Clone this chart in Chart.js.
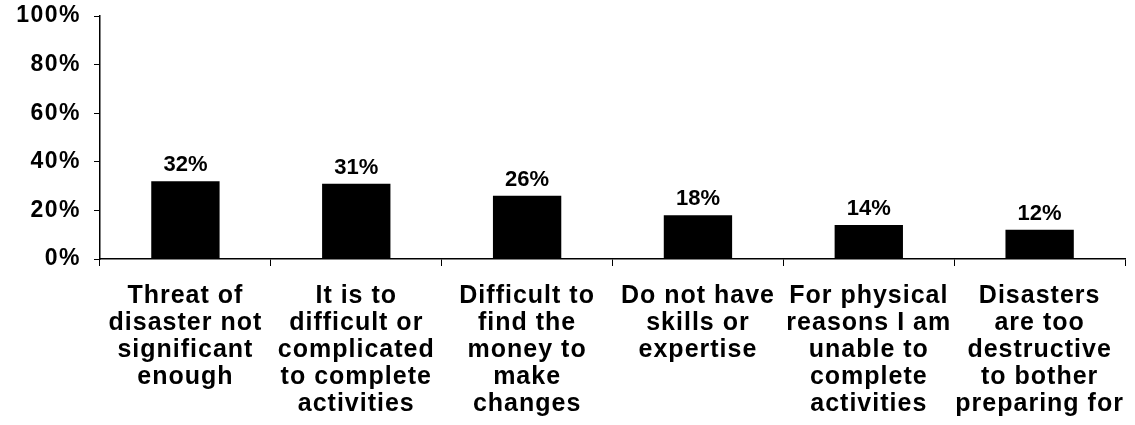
<!DOCTYPE html>
<html>
<head>
<meta charset="utf-8">
<script src="https://cdn.jsdelivr.net/npm/chart.js@4"></script>
<style>
  html, body { margin: 0; padding: 0; background: #fff; }
  #wrap { width: 1135px; height: 425px; }
</style>
</head>
<body>
<div id="wrap"><canvas id="grafica" width="1135" height="425"></canvas></div>
<script>
// categorias (multi-linea como en la imagen)
const categorias = [
  ['Threat of', 'disaster not', 'significant', 'enough'],
  ['It is to', 'difficult or', 'complicated', 'to complete', 'activities'],
  ['Difficult to', 'find the', 'money to', 'make', 'changes'],
  ['Do not have', 'skills or', 'expertise'],
  ['For physical', 'reasons I am', 'unable to', 'complete', 'activities'],
  ['Disasters', 'are too', 'destructive', 'to bother', 'preparing for']
];
const valores = [32, 31, 26, 18, 14, 12];
const ticksY = [0, 20, 40, 60, 80, 100];

const fuente = 'Liberation Sans, Arial, sans-serif';

// el texto original esta estirado a lo ancho: se imita con letterSpacing
const espaciado = {
  id: 'espaciado',
  beforeDraw(chart) { chart.ctx.letterSpacing = '1px'; },
  afterDatasetsDraw(chart) {
    const ctx = chart.ctx;
    const meta = chart.getDatasetMeta(0);
    ctx.save();
    ctx.letterSpacing = '0px';
    ctx.font = 'bold 22px ' + fuente;
    ctx.fillStyle = '#000';
    ctx.textAlign = 'center';
    ctx.textBaseline = 'alphabetic';
    meta.data.forEach((bar, i) => {
      ctx.fillText(valores[i] + '%', bar.x, bar.y - 10);
    });
    ctx.restore();
    // las etiquetas del eje y se dibujan despues (ticks.z = 1)
    ctx.letterSpacing = '1.5px';
  },
  afterDraw(chart) { chart.ctx.letterSpacing = '0px'; }
};

new Chart(document.getElementById('grafica'), {
  type: 'bar',
  data: {
    labels: categorias,
    datasets: [{
      data: valores,
      backgroundColor: '#000',
      borderWidth: 0,
      categoryPercentage: 1,
      barPercentage: 0.4
    }]
  },
  options: {
    responsive: false,
    animation: false,
    layout: { padding: { top: 16, right: 7, left: 0, bottom: 0 } },
    plugins: {
      legend: { display: false },
      tooltip: { enabled: false }
    },
    scales: {
      x: {
        grid: {
          display: true,
          drawOnChartArea: false,
          drawTicks: true,
          tickLength: 7,
          color: '#000',
          offset: true
        },
        border: { display: true, color: '#000', width: 1.5 },
        ticks: {
          autoSkip: false,
          maxRotation: 0,
          minRotation: 0,
          padding: 17,
          color: '#000',
          font: { family: fuente, size: 25, weight: 'bold', lineHeight: 1.08 }
        },
        afterFit(scale) { scale.height = 166; }
      },
      y: {
        min: 0,
        max: 100,
        afterBuildTicks(scale) { scale.ticks = ticksY.map(v => ({ value: v })); },
        grid: {
          display: true,
          drawOnChartArea: false,
          drawTicks: true,
          tickLength: 6,
          color: '#000'
        },
        border: { display: true, color: '#000', width: 1.5 },
        ticks: {
          z: 1,
          padding: 13,
          color: '#000',
          font: { family: fuente, size: 23, weight: 'bold' },
          callback: v => v + '%'
        },
        afterFit(scale) {
          scale.width = 100;
          scale.paddingTop = 0;
          scale.paddingBottom = 0;
        }
      }
    }
  },
  plugins: [espaciado]
});
</script>
</body>
</html>
